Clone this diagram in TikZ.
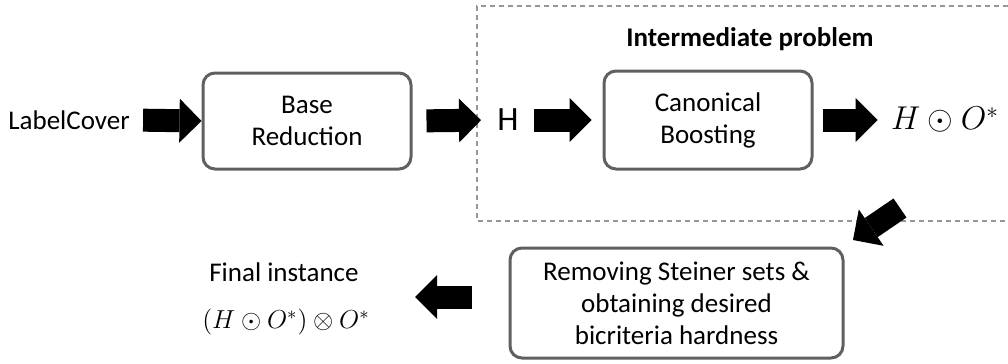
\RequirePackage{fix-cm}
\documentclass[tikz,border=0pt]{standalone}
\usepackage[no-math]{fontspec}
\setmainfont{Carlito}
\usetikzlibrary{arrows.meta}
\definecolor{boxgray}{RGB}{96,96,96}
\definecolor{framegray}{RGB}{150,150,150}
\begin{document}
\begin{tikzpicture}[
		x=0.5pt, y=-0.5pt,
		every node/.style={font=\fontsize{13.5}{16}\selectfont, inner sep=0pt},
		stage/.style={draw=boxgray, line width=1.5pt, rounded corners=6pt, align=center, minimum width=104pt, minimum height=48pt},
		fat/.style={-{Triangle[length=11pt, width=22pt, line width=0pt]}, line width=11.5pt},
		boxframe/.style={draw=framegray, line width=0.8pt, dash pattern=on 2.5pt off 2pt}
	]
	\useasboundingbox (0,0) rectangle (1008,364);

	% top row
	\node (label) at (69,120) {LabelCover};
	\node[stage] (base) at (307,121) {Base\\Reduction};
	\node[font=\fontsize{17}{20}\selectfont] (h) at (508,120) {H};
	\node[stage, minimum height=49pt] (canon) at (708,120) {Canonical\\Boosting};
	\node[font=\fontsize{16.5}{20}\selectfont] (hodot) at (945,120) {$H \odot O^*$};
	\node[font=\bfseries\fontsize{13.5}{16}\selectfont] (title) at (750,39) {Intermediate problem};

	% bottom row
	\node[stage, minimum width=166.5pt, minimum height=55pt] (remove) at (676.5,303) {Removing Steiner sets \&\\obtaining desired\\bicriteria hardness};
	\node (final) at (284,272) {Final instance};
	\node[font=\fontsize{13}{16}\selectfont] (finalmath) at (286,322) {$(H \odot O^*) \otimes O^*$};

	\draw[boxframe] (1008,6) -| (477,221) -- (1008,221);

	\draw[fat, shorten <=6.5pt] (label.east) -- (base.west);
	\draw[fat, shorten <=7pt, shorten >=8pt] (base.east) -- (h.west);
	\draw[fat, shorten <=7.5pt, shorten >=5.5pt] (h.east) -- (canon.west);
	\draw[fat, shorten <=4.5pt, shorten >=6.5pt] (canon.east) -- (hodot.west);

	\coordinate (dtail) at (900,208);
	\coordinate (dtip) at (853,240);
	\draw[fat] (dtail) -- (dtip);
	\coordinate (ltail) at (472,297);
	\coordinate (ltip) at (415,297);
	\draw[fat] (ltail) -- (ltip);
\end{tikzpicture}
\end{document}
